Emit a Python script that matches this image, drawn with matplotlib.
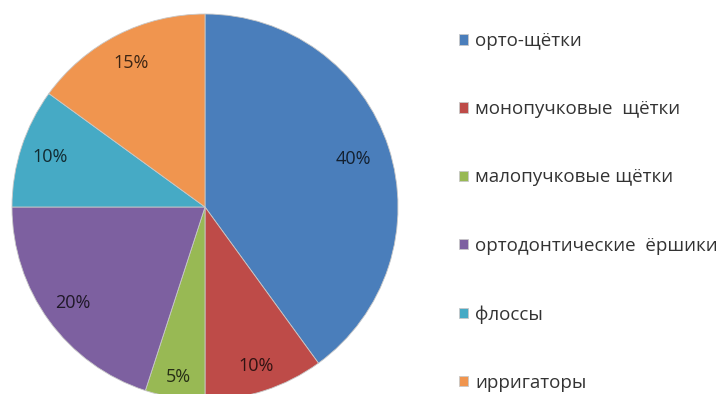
import numpy as np
import matplotlib.pyplot as plt
import matplotlib.colors as mcolors

categories = ["орто-щётки", "монопучковые  щётки", "малопучковые щётки",
              "ортодонтические  ёршики", "флоссы", "ирригаторы"]
shares = [40, 10, 5, 20, 10, 15]
colors = ["#4a7ebb", "#be4b48", "#98b954", "#7d60a0", "#46aac5", "#f0954f"]
# radial position of each percent label (fraction of radius)
label_dist = [0.81, 0.865, 0.89, 0.845, 0.845, 0.84]

plt.rcParams['font.family'] = ['Open Sans', 'DejaVu Sans']

fig = plt.figure(figsize=(7.27, 3.94), dpi=100)
# pie axes placed so the circle sits at the left, slightly cut at the bottom
ax = fig.add_axes([12 / 727, -6 / 394, 386 / 727, 386 / 394])

wedges, texts, autotexts = ax.pie(
    shares, colors=colors, startangle=90, counterclock=False,
    autopct='%d%%', pctdistance=0.83, radius=1.0,
    wedgeprops=dict(linewidth=0.6, edgecolor='#c8c8c8'))

#darker version of each slice colour for its label, moved out a little
for t, c, w, d in zip(autotexts, colors, wedges, label_dist):
    r, g, b = mcolors.to_rgb(c)
    t.set_color((r * 0.25, g * 0.25, b * 0.25))
    t.set_fontsize(13)
    mid = np.deg2rad((w.theta1 + w.theta2) / 2)
    t.set_position((d * np.cos(mid), d * np.sin(mid)))

ax.set_xlim(-1, 1)
ax.set_ylim(-1, 1)
ax.set_aspect('equal')

leg = fig.legend(wedges, categories, loc='upper left',
                 bbox_to_anchor=(459 / 727, 1 - 32 / 394),
                 frameon=False, fontsize=13.5, labelspacing=2.68, handlelength=0.5,
                 handleheight=0.5, handletextpad=0.35, borderpad=0, borderaxespad=0)
for t in leg.get_texts():
    t.set_color('#333333')

plt.savefig('out.png', dpi=100)
